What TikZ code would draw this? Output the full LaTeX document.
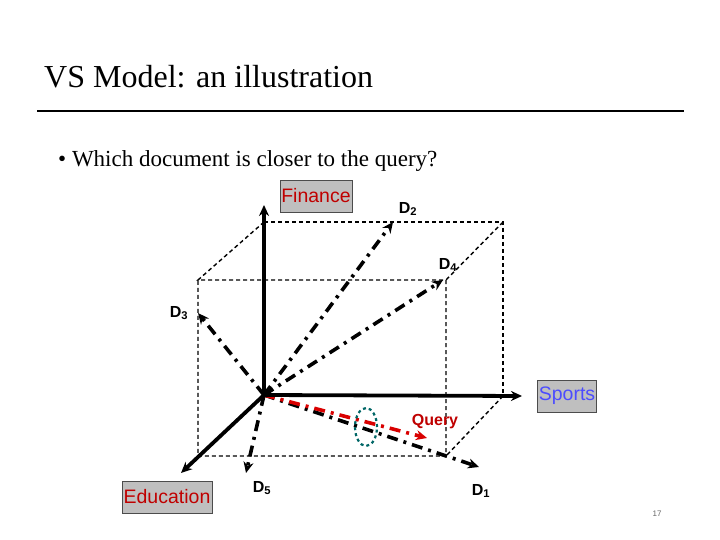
\documentclass[tikz,border=0pt]{standalone}
\usepackage{fontspec}
\setmainfont{Liberation Serif}
\newfontfamily\arial{Liberation Sans}
\usetikzlibrary{arrows.meta}
\begin{document}
\begin{tikzpicture}[x=1pt,y=-1pt,
  axis/.style={line width=3.8pt,-{Stealth[length=11pt,width=10pt]}},
  box/.style={dash pattern=on 4pt off 3pt,line width=1.4pt},
  doc/.style={line width=3.6pt,dash pattern=on 11pt off 6pt on 3pt off 6pt,-{Stealth[length=11pt,width=10pt]}},
  qry/.style={doc,red!85!black},
  lab/.style={font=\arial\bfseries\fontsize{16}{16}\selectfont,inner sep=0pt},
  cat/.style={draw=black!70,fill=black!25,font=\arial\fontsize{19.5}{19.5}\selectfont,inner sep=1.5pt,minimum height=32pt}]
\useasboundingbox (0,0) rectangle (720,540);
\node[anchor=base west,inner sep=0pt,font=\fontsize{32}{32}\selectfont] (title) at (44,88) {VS Model: an illustration};
\draw[line width=1.3pt] (37,111) -- (684,111);
\node[anchor=base west,inner sep=0pt,font=\fontsize{23}{23}\selectfont] (bul) at (58,167) {\textbullet\ Which document is closer to the query?};
% coordinates
\coordinate (O) at (264,395);
\coordinate (F) at (264,205);
\coordinate (S) at (522,396);
\coordinate (E) at (181,473);
\coordinate (btl) at (264,222);
\coordinate (btr) at (503,222);
\coordinate (bbr) at (503,396);
\coordinate (ftl) at (198,280);
\coordinate (ftr) at (446,280);
\coordinate (fbl) at (198,456);
\coordinate (fbr) at (446,456);
% box
\draw[box] (btl) -- (btr) -- (bbr);
\draw[box] (btl) -- (ftl) -- (ftr) -- (fbr) -- (fbl) -- (ftl);
\draw[box] (btr) -- (ftr);
\draw[box] (bbr) -- (fbr);
% docs
\coordinate (d2) at (393,222);
\coordinate (d4) at (443,280);
\coordinate (d3) at (198,313);
\coordinate (d5) at (246,473);
\coordinate (d1) at (479,467);
\coordinate (q) at (427,438);
\draw[doc] (O) -- (d2);
\draw[doc] (O) -- (d4);
\draw[doc] (O) -- (d3);
\draw[doc] (O) -- (d5);
\draw[doc] (O) -- (d1);
\draw[qry] (O) -- (q);
\draw[dashed,draw=teal!80!black,line width=2.2pt] (366,427) ellipse [x radius=11pt,y radius=19pt];
% axes
\draw[axis] (O) -- (F);
\draw[axis] (O) -- (S);
\draw[axis] (O) -- (E);
% labels
\node[cat,text=red!75!black] (fin) at (316,196) {Finance};
\node[cat,text=blue!70!white] (spo) at (567,396) {Sports};
\node[cat,text=red!75!black] (edu) at (167,497) {Education};
\node[lab] (l2) at (408,209) {D\textsubscript{2}};
\node[lab] (l4) at (448,265) {D\textsubscript{4}};
\node[lab] (l3) at (179,313) {D\textsubscript{3}};
\node[lab] (l5) at (262,488) {D\textsubscript{5}};
\node[lab] (l1) at (481,491) {D\textsubscript{1}};
\node[lab,text=red!75!black] (lq) at (435,422) {Query};
\node[font=\arial\fontsize{8}{8}\selectfont,text=black!60,inner sep=0pt] (pg) at (657,514) {17};
\end{tikzpicture}
\end{document}
